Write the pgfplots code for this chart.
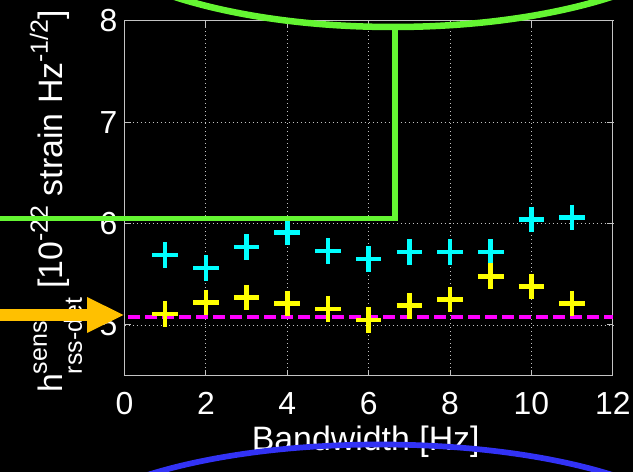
\documentclass[border=0pt]{standalone}
\usepackage{fontspec}
\setmainfont{Liberation Sans}
\usepackage{pgfplots}
\pgfplotsset{compat=1.18}
\definecolor{myg}{RGB}{100,245,50}
\definecolor{myb}{RGB}{50,50,245}
\definecolor{myo}{RGB}{255,192,0}
\definecolor{gridc}{RGB}{195,195,195}
\definecolor{mycyan}{RGB}{0,255,255}
\definecolor{myyel}{RGB}{255,255,0}
\definecolor{mymag}{RGB}{255,0,255}
\newcommand{\scr}[1]{{\fontsize{25}{25}\selectfont #1}}
\begin{document}
\begin{tikzpicture}[x=1bp,y=1bp]
\useasboundingbox (0,0) rectangle (633,472);
\fill[black] (0,0) rectangle (633,472);
\begin{scope}
\clip (0,0) rectangle (633,472);
\begin{axis}[
  at={(124.5bp,96.3bp)}, anchor=south west,
  width=488.3bp, height=355bp, scale only axis,
  xmin=0, xmax=12, ymin=4.5, ymax=8,
  xtick={0,2,4,6,8,10,12}, ytick={5,6,7,8},
  axis line style={gridc, line width=1bp},
  tick style={gridc, line width=1bp},
  major tick length=6bp,
  tick align=inside,
  grid=major,
  major grid style={gridc, line width=0.9bp, dash pattern=on 1bp off 3bp},
  ticklabel style={font=\fontsize{32}{32}\selectfont, text=white},
  /pgf/number format/assume math mode=true,
  xticklabel style={anchor=base, yshift=-39.3bp},
  yticklabel style={anchor=east, inner sep=0pt, xshift=-7bp},
  xlabel={Bandwidth [Hz]},
  every axis x label/.style={at={(axis description cs:0.494,-0.212)}, anchor=base, font=\fontsize{34}{34}\selectfont, text=white},
  ylabel={h\rlap{\raisebox{16bp}{\scr{sens}}}\raisebox{-19bp}{\scr{rss-det}} [10\raisebox{15bp}{\scr{-22}} strain Hz\raisebox{15bp}{\scr{-1/2}}]},
  every axis y label/.style={at={(axis description cs:-0.126,0.4907)}, rotate=90, anchor=base, font=\fontsize{34}{34}\selectfont, text=white},
  clip=false,
]
\addplot[only marks, mark=+, mark size=12.8bp, mycyan, mark options={line width=4.5bp}]
  coordinates {(1,5.69)(2,5.56)(3,5.77)(4,5.91)(5,5.73)(6,5.65)(7,5.72)(8,5.72)(9,5.72)(10,6.04)(11,6.06)};
\addplot[only marks, mark=+, mark size=12.8bp, myyel, mark options={line width=4.5bp}]
  coordinates {(1,5.11)(2,5.22)(3,5.27)(4,5.21)(5,5.16)(6,5.05)(7,5.19)(8,5.25)(9,5.48)(10,5.38)(11,5.21)};
\addplot[mymag, line width=4bp, dash pattern=on 12bp off 5bp, dash phase=-3.8bp]
  coordinates {(0,5.08)(12,5.08)};
\coordinate (gA) at (axis cs:-4,6.05);
\coordinate (gB) at (axis cs:6.65,6.05);
\coordinate (gC) at (axis cs:6.65,7.94);
\end{axis}
\draw[myg, line width=5.5bp, line join=miter] (gA) -- (gB) -- (gC);
\draw[myg, line width=6.5bp] (393,565) ellipse [x radius=330, y radius=120];
\draw[myb, line width=5.7bp] (380,-77.5) ellipse [x radius=330, y radius=105];
\fill[myo] (-2,151) rectangle (88,163);
\fill[myo] (87,175) -- (123.5,157) -- (87,139) -- cycle;
\end{scope}
\end{tikzpicture}
\end{document}
